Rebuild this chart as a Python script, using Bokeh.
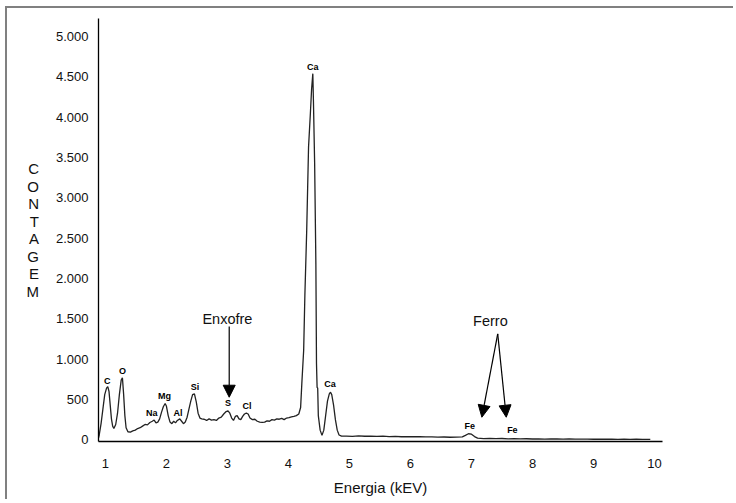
from bokeh.plotting import figure
from bokeh.models import Range1d, FixedTicker, Arrow, NormalHead, ColumnDataSource, Label
from bokeh.core.properties import value
from bokeh.embed import file_html
from bokeh.resources import INLINE

# --- data ---
energy = [0.88, 0.90, 0.93, 0.96, 0.99, 1.02, 1.04, 1.06, 1.08, 1.10, 1.12, 1.14, 1.17, 1.20, 1.23,
          1.26, 1.28, 1.30, 1.32, 1.34, 1.37, 1.41, 1.45, 1.49, 1.53, 1.57, 1.61, 1.65, 1.69, 1.73,
          1.77, 1.80, 1.83, 1.86, 1.89, 1.92, 1.95, 1.98, 2.00, 2.03, 2.06, 2.09, 2.12, 2.15, 2.18,
          2.22, 2.25, 2.28, 2.31, 2.34, 2.37, 2.40, 2.43, 2.46, 2.49, 2.52, 2.55, 2.58, 2.62, 2.66,
          2.70, 2.74, 2.78, 2.82, 2.86, 2.90, 2.94, 2.98, 3.01, 3.04, 3.07, 3.10, 3.13, 3.16, 3.19,
          3.22, 3.25, 3.28, 3.31, 3.34, 3.37, 3.41, 3.45, 3.49, 3.53, 3.57, 3.61, 3.65, 3.69, 3.73,
          3.77, 3.81, 3.85, 3.89, 3.93, 3.97, 4.01, 4.05, 4.09, 4.13, 4.17, 4.20, 4.22, 4.25, 4.27,
          4.30, 4.33, 4.36, 4.38, 4.40, 4.41, 4.43, 4.45, 4.46, 4.47, 4.48, 4.49, 4.52, 4.55, 4.58,
          4.61, 4.64, 4.67, 4.69, 4.71, 4.74, 4.77, 4.80, 4.83, 4.87, 4.95, 5.05, 5.15, 5.25, 5.35,
          5.45, 5.55, 5.65, 5.75, 5.85, 5.95, 6.05, 6.15, 6.25, 6.35, 6.45, 6.55, 6.65, 6.75, 6.85,
          6.90, 6.95, 7.00, 7.05, 7.10, 7.20, 7.30, 7.40, 7.50, 7.60, 7.70, 7.80, 7.90, 8.00, 8.10,
          8.20, 8.30, 8.40, 8.50, 8.60, 8.70, 8.80, 8.90, 9.00, 9.10, 9.20, 9.30, 9.40, 9.50, 9.60,
          9.70, 9.80, 9.93]
counts = [0, 60, 200, 380, 560, 640, 660, 600, 430, 260, 170, 140, 190, 330, 560,
          740, 770, 560, 300, 150, 100, 95, 110, 120, 140, 150, 170, 190, 185, 215,
          230, 245, 210, 220, 260, 340, 410, 450, 420, 300, 220, 200, 230, 210, 240,
          260, 230, 200, 220, 280, 380, 480, 560, 570, 470, 330, 270, 260, 255, 240,
          260, 245, 250, 240, 270, 280, 320, 350, 360, 330, 270, 240, 290, 300, 260,
          250, 290, 320, 330, 320, 270, 250, 255, 230, 220, 215, 220, 235, 230, 250,
          245, 260, 255, 265, 250, 270, 275, 285, 290, 300, 320, 400, 700, 1110, 1800,
          2600, 3630, 4050, 4350, 4540, 4200, 3420, 2180, 950, 650, 640, 300, 120, 55, 120,
          300, 480, 570, 590, 560, 430, 250, 120, 60, 45, 45, 42, 48, 44, 46,
          42, 45, 40, 43, 38, 40, 38, 40, 36, 37, 34, 35, 32, 33, 36,
          55, 75, 70, 40, 20, 15, 18, 14, 16, 12, 14, 11, 13, 10, 12,
          9, 11, 10, 8, 10, 9, 8, 9, 7, 8, 7, 8, 6, 7, 6,
          7, 6, 5]

peak_names = ["C", "O", "Na", "Mg", "Al", "Si", "S", "Cl", "Ca", "Ca", "Fe", "Fe"]
peak_x = [1.03, 1.28, 1.76, 1.97, 2.19, 2.47, 3.01, 3.32, 4.40, 4.68, 6.97, 7.67]
peak_y = [727, 847, 335, 549, 335, 660, 459, 425, 4620, 686, 165, 116]

y_ticks = [0, 500, 1000, 1500, 2000, 2500, 3000, 3500, 4000, 4500, 5000]
y_tick_labels = ["0", "500", "1.000", "1.500", "2.000", "2.500", "3.000", "3.500", "4.000", "4.500", "5.000"]
x_ticks = [1, 2, 3, 4, 5, 6, 7, 8, 9, 10]

y_title = "C\nO\nN\nT\nA\nG\nE\nM"

enxofre_text = "Enxofre"
enxofre_pos = (3.00, 1500)
enxofre_arrow = (3.03, 1405, 3.03, 528)
ferro_text = "Ferro"
ferro_pos = (7.31, 1479)
ferro_arrows = [(7.43, 1314, 7.17, 280), (7.43, 1314, 7.57, 280)]

FONT = "Liberation Sans"

p = figure(width=728, height=493, output_backend="svg", toolbar_location=None,
           x_range=Range1d(0.888, 10.13), y_range=Range1d(-21, 5224),
           min_border_left=91, min_border_right=73, min_border_top=10, min_border_bottom=60)
p.styles = {"margin-left": "7px", "margin-top": "8px",
            "box-shadow": "-2px -2px 0px 0px #808080"}
p.grid.visible = False
p.outline_line_color = None
p.background_fill_color = "white"
p.border_fill_color = "white"

p.line(energy, counts, line_color="#222222", line_width=1.3)

src = ColumnDataSource(dict(x=peak_x, y=peak_y, t=peak_names))
p.text(x="x", y="y", text="t", source=src, text_font=value(FONT), text_font_size="9px",
       text_font_style="bold", text_align="center", text_baseline="middle", text_color="black")

for ax in (p.xaxis[0], p.yaxis[0]):
    ax.major_tick_out = 0
    ax.major_tick_in = 0
    ax.minor_tick_out = 0
    ax.minor_tick_in = 0
    ax.axis_line_color = "black"
    ax.axis_line_width = 1.3
    ax.major_label_text_font = FONT
    ax.major_label_text_font_size = "13px"
    ax.major_label_text_color = "#111111"

p.xaxis.ticker = FixedTicker(ticks=x_ticks)
p.xaxis.major_label_standoff = 17
p.xaxis.axis_label = "Energia (kEV)"
p.xaxis.axis_label_text_font = FONT
p.xaxis.axis_label_text_font_size = "15px"
p.xaxis.axis_label_text_font_style = "normal"
p.xaxis.axis_label_text_color = "#111111"
p.xaxis.axis_label_standoff = 8

p.yaxis.ticker = FixedTicker(ticks=y_ticks)
p.yaxis.major_label_overrides = {t: s for t, s in zip(y_ticks, y_tick_labels)}
p.yaxis.major_label_standoff = 10
p.yaxis.axis_label = y_title
p.yaxis.axis_label_orientation = "horizontal"
p.yaxis.axis_label_text_font = FONT
p.yaxis.axis_label_text_font_size = "15px"
p.yaxis.axis_label_text_font_style = "normal"
p.yaxis.axis_label_text_color = "#111111"
p.yaxis.axis_label_text_line_height = 1.03
p.yaxis.axis_label_standoff = 14

p.add_layout(Label(x=enxofre_pos[0], y=enxofre_pos[1], text=enxofre_text, text_font=FONT,
                   text_font_size="14.5px", text_align="center", text_baseline="middle",
                   text_color="#111111"))
p.add_layout(Label(x=ferro_pos[0], y=ferro_pos[1], text=ferro_text, text_font=FONT,
                   text_font_size="14.5px", text_align="center", text_baseline="middle",
                   text_color="#111111"))

arrows = [enxofre_arrow] + ferro_arrows
for xs, ys, xe, ye in arrows:
    p.add_layout(Arrow(end=NormalHead(size=12, fill_color="black", line_color="black"),
                       x_start=xs, y_start=ys, x_end=xe, y_end=ye,
                       line_color="black", line_width=1.2))

open("out.html", "w").write(file_html(p, INLINE))
